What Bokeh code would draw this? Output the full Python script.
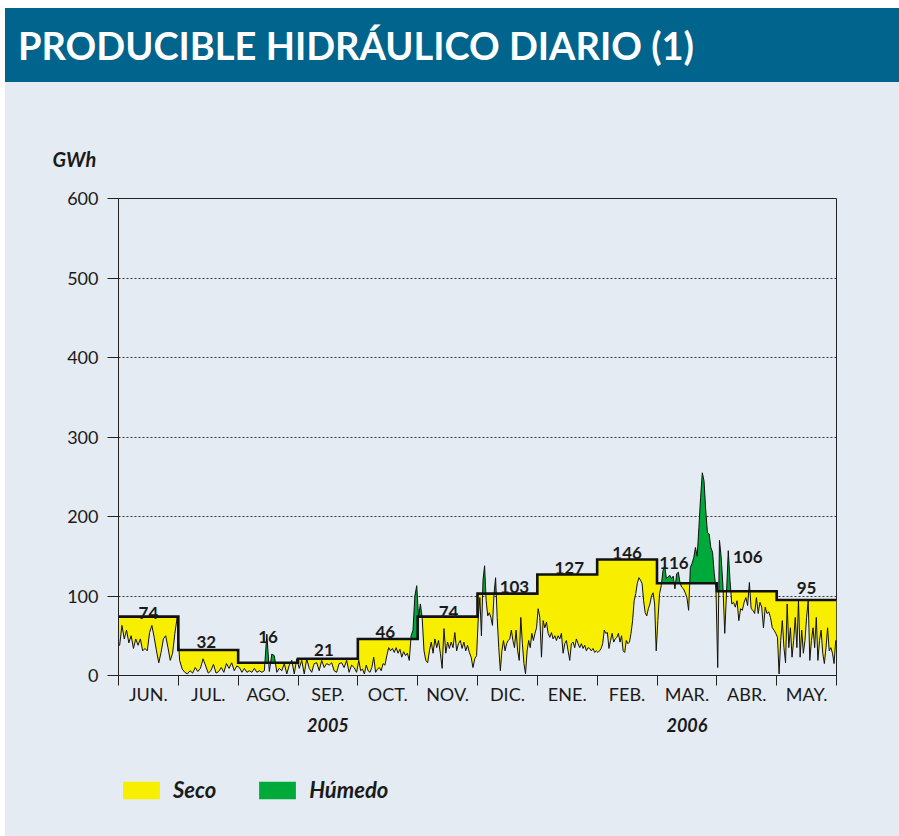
import numpy as np
from bokeh.plotting import figure
from bokeh.models import (Range1d, FixedTicker, LinearAxis, Legend, LegendItem,
                          ColumnDataSource, Div)
from bokeh.layouts import column
from bokeh.embed import file_html
from bokeh.resources import INLINE
from bokeh.core.properties import value

# ---------------- data ----------------
title_text = "PRODUCIBLE HIDRÁULICO DIARIO (1)"
unit_label = "GWh"
months = ["JUN.", "JUL.", "AGO.", "SEP.", "OCT.", "NOV.",
          "DIC.", "ENE.", "FEB.", "MAR.", "ABR.", "MAY."]
years = ["2005", "2006"]
series_names = ["Seco", "Húmedo"]
monthly_avg = [74, 32, 16, 21, 46, 74, 103, 127, 146, 116, 106, 95]

daily_jun = [38, 63, 46, 57, 41, 50, 34, 46, 38, 46, 31, 34, 31, 54, 63, 48, 31,
             16, 29, 46, 50, 35, 19, 28, 53, 73]
daily_jul = [19, 8, 4, 2, 6, 3, 10, 5, 9, 21, 12, 3, 6, 14, 3, 5, 10, 4, 15, 9,
             16, 6, 12]
daily_ago = [10, 4, 9, 4, 6, 4, 9, 4, 6, 4, 6, 52, 5, 27, 25, 4, 9, 6, 15, 2, 13,
             19, 2, 21]
daily_sep = [9, 19, 2, 21, 9, 4, 15, 16, 6, 19, 10, 15, 13, 16, 6, 4, 15, 16, 10,
             19, 4, 13, 10, 4]
daily_oct = [19, 6, 8, 2, 13, 6, 4, 10, 23, 4, 8, 10, 6, 15, 13, 25, 35, 31, 34,
             29, 35, 28, 33, 23, 30, 25, 28, 19, 50, 57, 100, 113]
daily_nov = [73, 90, 72, 31, 19, 16, 31, 42, 28, 46, 35, 44, 28, 9, 59, 28, 42,
             34, 42, 35, 54, 31, 40, 44, 34, 42, 31, 38, 29, 23, 10, 21, 25]
daily_dic = [73, 98, 50, 120, 138, 94, 75, 79, 73, 63, 103, 123, 73, 35, 6, 31,
             44, 31, 40, 44, 46, 57, 44, 35, 57, 31, 19, 73, 40, 15, 2, 31, 44,
             35, 53, 44, 53, 60]
daily_ene = [84, 73, 23, 69, 60, 67, 53, 48, 54, 46, 50, 44, 50, 46, 53, 28, 40,
             44, 31, 19, 40, 42, 35, 46, 40, 35, 40, 34, 38, 31, 35, 34, 31, 34,
             29, 31]
daily_feb = [29, 31, 34, 40, 57, 53, 54, 34, 44, 53, 42, 46, 48, 53, 42, 50, 31,
             29, 44, 40, 42, 53, 69, 94, 103, 116, 123, 120, 116, 94, 79, 75, 84,
             90, 100, 104, 90, 31]
daily_mar = [69, 103, 113, 132, 138, 122, 124, 126, 122, 125, 109, 128, 130, 116,
             111, 109, 104, 98, 82, 136, 141, 148, 161, 150, 186, 224, 255, 245,
             208, 180, 178, 161, 155, 128, 109]
daily_abr = [10, 170, 148, 111, 53, 104, 157, 119, 90, 92, 86, 94, 69, 84, 82, 92,
             98, 88, 117, 84, 82, 78, 98, 78, 92, 86, 60, 86, 78, 80, 73, 60, 57,
             53]
daily_may = [48, 2, 44, 69, 35, 16, 90, 35, 60, 23, 44, 73, 35, 94, 23, 57, 28,
             44, 73, 94, 19, 44, 60, 35, 73, 19, 44, 57, 28, 15, 35, 60, 31, 35,
             28, 15, 44]
daily_values = [daily_jun, daily_jul, daily_ago, daily_sep, daily_oct, daily_nov,
                daily_dic, daily_ene, daily_feb, daily_mar, daily_abr, daily_may]

# ---------------- styles ----------------
BG = "#e4ebf3"
HEADER = "#00648c"
YELLOW = "#f8ee00"
GREEN = "#00aa3a"
INK = "#1a1a1a"
FONT = "Lato"
label_dx = [0, -2, 0, -4, -2.5, 1, 7, 2, 0, -13, 1, 0]     # px
label_gap = [4, 8.5, 26, 9, 7, 5, 7, 7, 6.5, 20, 34, 12]   # px

# ---------------- geometry from data ----------------
X, D, A = [], [], []
for k, vals in enumerate(daily_values):
    n = len(vals)
    for i, v in enumerate(vals):
        X.append(k + (i + 0.5) / n)
        D.append(v)
        A.append(monthly_avg[k])
X = [0.0] + X + [12.0]
D = [D[0]] + D + [D[-1]]
A = [A[0]] + A + [A[-1]]

fx, fd, fa = [], [], []


def add(x, d, a):
    fx.append(x); fd.append(d); fa.append(a)


def cross(x0, d0, x1, d1, a):
    if (d0 - a) * (d1 - a) < 0:
        add(x0 + (a - d0) / (d1 - d0) * (x1 - x0), a, a)


for j in range(len(X) - 1):
    x0, d0, a0 = X[j], D[j], A[j]
    x1, d1, a1 = X[j + 1], D[j + 1], A[j + 1]
    add(x0, d0, a0)
    if a0 != a1:
        b = float(np.floor(x1))
        db = d0 + (d1 - d0) * (b - x0) / (x1 - x0)
        cross(x0, d0, b, db, a0)
        add(b, db, a0)
        add(b, db, a1)
        cross(b, db, x1, d1, a1)
    else:
        cross(x0, d0, x1, d1, a0)
add(X[-1], D[-1], A[-1])
fd_a = np.array(fd, dtype=float)
fa_a = np.array(fa, dtype=float)

fill_src = ColumnDataSource(dict(x=fx, lo=np.minimum(fd_a, fa_a), avg=fa_a,
                                 hi=np.maximum(fd_a, fa_a)))

sx, sy = [], []
for k, a in enumerate(monthly_avg):
    sx += [k, k + 1]
    sy += [a, a]

lab_src = ColumnDataSource(dict(
    x=[k + 0.5 for k in range(12)], y=monthly_avg,
    t=[str(v) for v in monthly_avg], dx=label_dx, dy=[-g for g in label_gap]))

# ---------------- header ----------------
W = 894
header = Div(
    text=('<div style="font-family: Lato, sans-serif; font-weight: bold; '
          'font-size: 38px; color: white; line-height: 74px; padding-left: 13px; '
          'white-space: nowrap;">' + title_text + '</div>'),
    width=W, height=74, margin=0,
    styles={"background-color": HEADER, "overflow": "hidden"})

# ---------------- main chart ----------------
p = figure(width=W, height=678, x_range=Range1d(0, 12), y_range=Range1d(0, 600),
           toolbar_location=None, output_backend="svg",
           min_border_left=113, min_border_right=63, min_border_top=116,
           min_border_bottom=85)
p.background_fill_color = BG
p.border_fill_color = BG
p.outline_line_color = "#222222"
p.outline_line_width = 1

p.title.text = unit_label
p.title.align = "left"
p.title.offset = -66
p.title.standoff = 56
p.title.text_font = FONT
p.title.text_font_style = "bold italic"
p.title.text_font_size = "20px"
p.title.text_color = INK

r_dry = p.varea(x="x", y1="lo", y2="avg", source=fill_src, fill_color=YELLOW)
r_wet = p.varea(x="x", y1="avg", y2="hi", source=fill_src, fill_color=GREEN)
p.line(X, D, line_color="#111111", line_width=1)
p.line(sx, sy, line_color="#111111", line_width=2.6, line_join="miter")
p.text(x="x", y="y", text="t", x_offset="dx", y_offset="dy", source=lab_src,
       text_align="center", text_baseline="alphabetic", text_color=INK,
       text_font=value(FONT), text_font_style="bold", text_font_size="17px")

# y axis
p.yaxis.ticker = FixedTicker(ticks=[0, 100, 200, 300, 400, 500, 600])
p.yaxis.major_tick_out = 11
p.yaxis.major_tick_in = 0
p.yaxis.minor_tick_line_color = None
p.yaxis.major_label_standoff = 9
p.yaxis.axis_line_color = "#222222"
p.yaxis.major_tick_line_color = "#222222"
p.yaxis.major_label_text_font = FONT
p.yaxis.major_label_text_font_size = "18px"
p.yaxis.major_label_text_color = INK

# grid
p.xgrid.visible = False
p.ygrid.ticker = FixedTicker(ticks=[100, 200, 300, 400, 500])
p.ygrid.grid_line_color = "#333333"
p.ygrid.grid_line_dash = "2 2"
p.ygrid.grid_line_width = 1

# x axis: month labels at centres, ticks at month boundaries
xa = p.xaxis[0]
xa.ticker = FixedTicker(ticks=[k + 0.5 for k in range(12)],
                        minor_ticks=list(range(13)))
xa.major_label_overrides = {k + 0.5: m for k, m in enumerate(months)}
xa.major_tick_line_color = None
xa.major_tick_out = 0
xa.major_tick_in = 0
xa.minor_tick_out = 10
xa.minor_tick_in = 0
xa.minor_tick_line_color = "#222222"
xa.axis_line_color = "#222222"
xa.major_label_standoff = -3
xa.major_label_text_font = FONT
xa.major_label_text_font_size = "18px"
xa.major_label_text_color = INK

year_axis = LinearAxis(ticker=FixedTicker(ticks=[3.5, 9.5]),
                       major_label_overrides={3.5: years[0], 9.5: years[1]},
                       axis_line_color=None, major_tick_line_color=None,
                       minor_tick_line_color=None, major_tick_out=0,
                       major_tick_in=0, major_label_standoff=10,
                       major_label_text_font=FONT,
                       major_label_text_font_style="bold italic",
                       major_label_text_font_size="18px",
                       major_label_text_color=INK)
p.add_layout(year_axis, "below")

# ---------------- legend strip ----------------
lg = figure(width=W, height=76, x_range=Range1d(0, 1), y_range=Range1d(0, 1),
            toolbar_location=None, output_backend="svg",
            x_axis_location=None, y_axis_location=None,
            min_border_left=113, min_border_right=63, min_border_top=0,
            min_border_bottom=0)
lg.background_fill_color = BG
lg.border_fill_color = BG
lg.outline_line_color = BG
lg.outline_line_width = 3
lg.grid.visible = False
# swatch renderers lie outside the visible range; only their legend glyphs show
k_dry = lg.varea(x=[5, 6], y1=[5, 5], y2=[6, 6], fill_color=YELLOW)
k_wet = lg.varea(x=[5, 6], y1=[5, 5], y2=[6, 6], fill_color=GREEN)
legend = Legend(items=[LegendItem(label=series_names[0], renderers=[k_dry]),
                       LegendItem(label=series_names[1], renderers=[k_wet])],
                orientation="horizontal", location=(0, 33),
                glyph_width=46, glyph_height=22, label_height=22,
                label_standoff=9, spacing=38, padding=0, margin=0,
                border_line_color=None, background_fill_alpha=0,
                label_text_font=FONT, label_text_font_style="bold italic",
                label_text_font_size="22px", label_text_color=INK)
lg.add_layout(legend)

layout = column(header, p, lg, spacing=0, margin=(8, 0, 0, 5),
                styles={"background-color": BG})
open("out.html", "w").write(file_html(layout, INLINE))
